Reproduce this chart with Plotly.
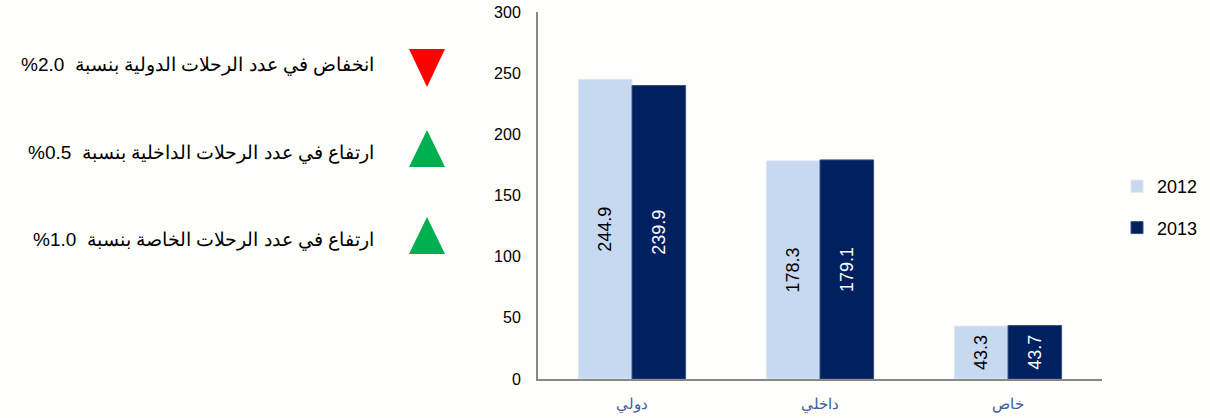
import plotly.graph_objects as go

categories = ["دولي", "داخلي", "خاص"]
years = ["2012", "2013"]
values_2012 = [244.9, 178.3, 43.3]
values_2013 = [239.9, 179.1, 43.7]
y_ticks = [0, 50, 100, 150, 200, 250, 300]

notes = [
    "انخفاض في عدد الرحلات الدولية بنسبة",
    "ارتفاع في عدد الرحلات الداخلية بنسبة",
    "ارتفاع في عدد الرحلات الخاصة بنسبة",
]
note_pcts = ["2.0", "0.5", "1.0"]
note_dirs = ["down", "up", "up"]

W, H = 1210, 418
BG = "#FEFEFA"
C12 = "#C6D9F1"
C13 = "#002060"

fig = go.Figure()
fig.add_trace(go.Bar(
    x=categories, y=values_2012, name=years[0], legendgroup="a",
    marker=dict(color=C12, line=dict(color="#DCE6F4", width=1)),
    text=[f"{v:.1f}" for v in values_2012], textposition="inside",
    insidetextanchor="middle", textangle=-90,
    textfont=dict(family="Liberation Sans, Arial", size=18, color="#000000"),
))
fig.add_trace(go.Bar(
    x=categories, y=values_2013, name=years[1], legendgroup="b",
    marker=dict(color=C13, line=dict(color="#3B4F7F", width=1)),
    text=[f"{v:.1f}" for v in values_2013], textposition="inside",
    insidetextanchor="middle", textangle=-90,
    textfont=dict(family="Liberation Sans, Arial", size=18, color="#FFFFFF"),
))

# plot area in pixels
x0, x1, ytop, ybot = 538, 1102, 12, 379

def px(x):
    return x / W

def py(y):
    return 1 - y / H

shapes = []
annotations = []
rows_y = [65, 153, 240]
for note, pct, d, yc in zip(notes, note_pcts, note_dirs, rows_y):
    tl, tr = 409, 445
    if d == "down":
        top, bot = yc - 16, yc + 22
        path = f"M{px(tl)},{py(top)} L{px(tr)},{py(top)} L{px((tl+tr)/2)},{py(bot)} Z"
        col = "#FF0000"
    else:
        top, bot = yc - 23, yc + 14
        path = f"M{px(tl)},{py(bot)} L{px(tr)},{py(bot)} L{px((tl+tr)/2)},{py(top)} Z"
        col = "#00B050"
    shapes.append(dict(type="path", xref="paper", yref="paper", path=path,
                       fillcolor=col, line=dict(width=0)))
    annotations.append(dict(
        xref="paper", yref="paper", x=px(376), y=py(yc),
        xanchor="right", yanchor="middle", showarrow=False,
        text=f"%{pct}  {note}",
        font=dict(family="Liberation Sans, Arial", size=19, color="#000000"),
    ))

fig.update_layout(
    width=W, height=H,
    margin=dict(l=0, r=0, t=0, b=0, autoexpand=False),
    paper_bgcolor=BG, plot_bgcolor=BG,
    barmode="group", bargap=0.43, bargroupgap=0,
    showlegend=True,
    legend=dict(x=px(1117), y=py(168), xanchor="left", yanchor="top",
                font=dict(family="Liberation Sans, Arial", size=18, color="#000000"),
                tracegroupgap=15, itemwidth=30, bgcolor="rgba(0,0,0,0)",
                traceorder="grouped"),
    xaxis=dict(domain=[px(x0), px(x1)], showline=True, linecolor="#888888",
               linewidth=2, ticks="", showgrid=False, zeroline=False,
               automargin=False,
               tickfont=dict(family="Liberation Sans, Arial", size=15, color="#3E5C9A"),
               ticklabelstandoff=10),
    yaxis=dict(domain=[py(ybot), py(ytop)], range=[0, 300], tickvals=y_ticks,
               showline=True, linecolor="#888888", linewidth=2, ticks="",
               showgrid=False, zeroline=False, automargin=False,
               tickfont=dict(family="Liberation Sans, Arial", size=16, color="#000000"),
               ticklabelstandoff=12),
    shapes=shapes, annotations=annotations,
    font=dict(family="Liberation Sans, Arial"),
)

fig.write_html(
    "out.html",
    config={"displayModeBar": False},
    post_script="document.body.style.margin='0';document.body.style.overflow='hidden';",
)
